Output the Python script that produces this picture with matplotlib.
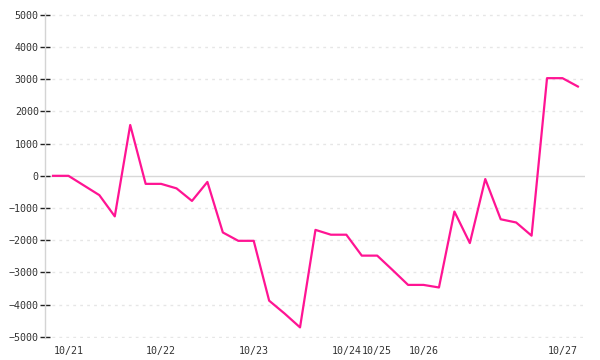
import matplotlib
matplotlib.use("Agg")
import matplotlib.pyplot as plt

values = [0, 0, -300, -600, -1260, 1580, -250, -250, -390, -780,
          -190, -1760, -2020, -2020, -3880, -4280, -4710, -1680, -1830, -1830,
          -2480, -2480, -2930, -3390, -3390, -3470, -1110, -2090, -100, -1350,
          -1450, -1860, 3035, 3035, 2775]
label_positions = [1, 7, 13, 19, 21, 24, 33]
label_texts = ["10/21", "10/22", "10/23", "10/24", "10/25", "10/26", "10/27"]
y_ticks = [-5000, -4000, -3000, -2000, -1000, 0, 1000, 2000, 3000, 4000, 5000]

plt.rcParams['font.family'] = ['DejaVu Sans Mono']

fig = plt.figure(figsize=(6, 3.6), dpi=100)
ax = fig.add_axes([45/600, (360-338)/360, 540/600, 325/360])

x = list(range(len(values)))
for yt in y_ticks:
    if yt == 0:
        ax.axhline(0, color="#d8d8d8", lw=1.0, zorder=1)
    else:
        ax.axhline(yt, color="#e6e6e6", lw=1.0, ls=(0, (2, 3)), zorder=1)

ax.plot(x, values, color="#ff1493", lw=1.6, zorder=3)

ax.set_xlim(-0.52, 34.46)
ax.set_ylim(-5040, 5060)
ax.set_yticks(y_ticks)
ax.set_yticklabels([str(v).replace("-", "\u2212") for v in y_ticks])
ax.set_xticks(label_positions)
ax.set_xticklabels(label_texts)

for s in ["top", "right", "bottom"]:
    ax.spines[s].set_visible(False)
ax.spines["left"].set_color("#d4d4d4")
ax.spines["left"].set_linewidth(1.0)

ax.tick_params(axis="y", direction="inout", length=7, width=1, color="#222222",
               labelsize=7.2, labelcolor="#333333", pad=1)
ax.tick_params(axis="x", length=0, labelsize=7.2, labelcolor="#333333", pad=6)

fig.savefig("out.png", dpi=100)
